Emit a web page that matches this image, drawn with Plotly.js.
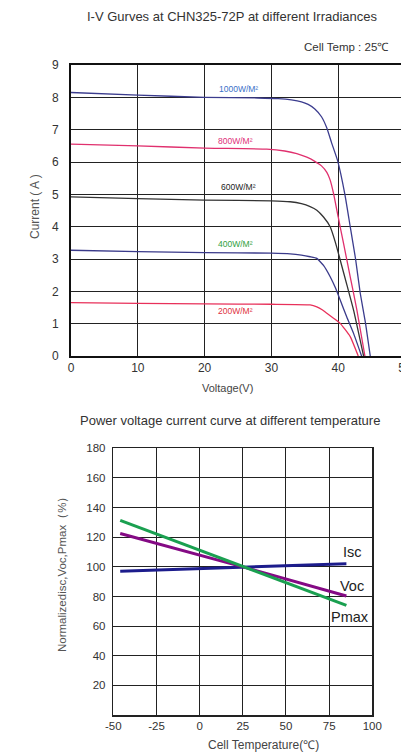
<!DOCTYPE html>
<html>
<head>
<meta charset="utf-8">
<script src="https://cdn.plot.ly/plotly-3.0.1.min.js"></script>
<style>
html,body{margin:0;padding:0;overflow:hidden;background:#fff;}
#chart{width:406px;height:753px;}
</style>
</head>
<body>
<div id="chart"></div>
<script>
// ---- Top chart: I-V curves ----
const irrLabels = ["1000W/M²", "800W/M²", "600W/M²", "400W/M²", "200W/M²"];
const v1000 = [0, 10, 20, 28, 31, 33, 34.5, 35.5, 36.5, 37.5, 38.3, 39, 39.9, 41, 41.8, 42.6, 43.3, 44.1, 44.8];
const i1000 = [8.15, 8.07, 8.0, 7.98, 7.96, 7.92, 7.86, 7.78, 7.64, 7.4, 7.05, 6.6, 6.05, 5.0, 4.0, 3.0, 1.94, 1.0, 0];
const v800 = [0, 10, 20, 29.3, 32, 33.8, 35.3, 36.5, 37.5, 38.3, 38.8, 39.3, 40, 40.8, 41.8, 42.8, 44.0];
const i800 = [6.55, 6.5, 6.43, 6.4, 6.34, 6.26, 6.15, 6.02, 5.88, 5.68, 5.44, 5.03, 4.3, 3.48, 2.45, 1.42, 0];
const v600 = [0, 10, 20, 30, 32.8, 34.5, 35.8, 36.8, 37.8, 38.8, 39.6, 40.3, 41.3, 42.3, 43.8];
const i600 = [4.92, 4.87, 4.82, 4.8, 4.77, 4.71, 4.62, 4.51, 4.3, 4.0, 3.5, 2.97, 2.2, 1.42, 0];
const v400 = [0, 10, 20, 30, 32.8, 34.5, 35.8, 36.8, 37.8, 38.8, 39.6, 40.3, 41.3, 42.3, 43.5];
const i400 = [3.27, 3.23, 3.2, 3.18, 3.16, 3.12, 3.07, 3.02, 2.8, 2.45, 2.1, 1.73, 1.2, 0.7, 0];
const v200 = [0, 10, 20, 30, 35.8, 36.8, 37.6, 38.3, 39.3, 40.3, 41.8, 43.0];
const i200 = [1.65, 1.63, 1.61, 1.6, 1.58, 1.52, 1.43, 1.32, 1.17, 1.01, 0.6, 0];
const labelV = [25.0, 24.6, 25.0, 24.6, 24.6];
const labelI = [8.25, 6.64, 5.22, 3.46, 1.39];
const voltTicks = [0, 10, 20, 30, 40, 50];
const currTicks = [0, 1, 2, 3, 4, 5, 6, 7, 8, 9];

// ---- Bottom chart: temperature coefficients ----
const tempNames = ["Isc", "Voc", "Pmax"];
const temps = [-46, 25, 85];
const isc = [97.1, 100, 102];
const voc = [122.5, 100, 80.3];
const pmax = [131.4, 100, 74];
const tempLabelT = [88.8, 88.2, 87];
const tempLabelV = [109.9, 87, 66.1];
const tempTicks = [-50, -25, 0, 25, 50, 75, 100];
const tempTickText = ["-50", "-25", "0", "25", "50", "75", "100"];
const pctTicks = [20, 40, 60, 80, 100, 120, 140, 160, 180];

const lineColors = ["#3b3c8e", "#e0306e", "#333333", "#3a3a8a", "#e8305a"];
const textColors = ["#3a70c8", "#e0307a", "#222222", "#30a040", "#e03040"];
const tempColors = ["#1c1c8c", "#840a84", "#1aa050"];

const ivV = [v1000, v800, v600, v400, v200];
const ivI = [i1000, i800, i600, i400, i200];

const traces = [];
for (let k = 0; k < 5; k++) {
  traces.push({
    x: ivV[k], y: ivI[k], xaxis: 'x', yaxis: 'y', mode: 'lines',
    line: {color: lineColors[k], width: 1.3, shape: 'spline', smoothing: 0.4},
    hoverinfo: 'skip', showlegend: false
  });
}
const tv = [isc, voc, pmax];
for (let k = 0; k < 3; k++) {
  traces.push({
    x: temps, y: tv[k], xaxis: 'x2', yaxis: 'y2', mode: 'lines',
    line: {color: tempColors[k], width: 3},
    hoverinfo: 'skip', showlegend: false
  });
}

const font = {family: 'Arial, "Liberation Sans", sans-serif', color: '#333', size: 11};
const ann = [];
for (let k = 0; k < 5; k++) {
  ann.push({x: labelV[k], y: labelI[k], xref: 'x', yref: 'y', text: irrLabels[k], showarrow: false,
    xanchor: 'center', yanchor: 'middle',
    font: {family: font.family, size: 8.5, color: textColors[k]}});
}
for (let k = 0; k < 3; k++) {
  ann.push({x: tempLabelT[k], y: tempLabelV[k], xref: 'x2', yref: 'y2', text: tempNames[k], showarrow: false,
    xanchor: 'center', yanchor: 'middle',
    font: {family: font.family, size: 14.5, color: '#222'}});
}
const W = 334, H = 650, L = 71, B = 715;
function px(x) { return (x - L) / W; }
function py(y) { return (B - y) / H; }
function addText(cx, cy, text, size, color, angle) {
  ann.push({x: px(cx), y: py(cy), xref: 'paper', yref: 'paper', text: text, showarrow: false,
    xanchor: 'center', yanchor: 'middle', textangle: angle || 0,
    font: {family: font.family, size: size, color: color}});
}
addText(232, 17, 'I-V Gurves at CHN325-72P at different Irradiances', 13, '#333');
addText(346, 47, 'Cell Temp : 25℃', 11.5, '#333');
addText(35, 207, 'Current ( A )', 12, '#555', -90);
addText(227, 388, 'Voltage(V)', 11, '#444');
addText(230, 420, 'Power voltage current curve at different temperature', 13, '#333');
addText(62, 572, 'Normalizedisc,Voc,Pmax（%）', 11.5, '#555', -90);
addText(263, 745, 'Cell Temperature(℃)', 12, '#444');

const layout = {
  width: 406, height: 753,
  margin: {l: L, r: 406 - L - W, t: 65, b: 753 - B},
  paper_bgcolor: '#fff', plot_bgcolor: '#fff',
  font: font,
  showlegend: false,
  xaxis: {domain: [0, 1], range: [0, 50], tickvals: voltTicks, ticks: '', showgrid: true, gridcolor: '#222', gridwidth: 1,
    zeroline: false, showline: true, linecolor: '#111', linewidth: 2, mirror: true, anchor: 'y',
    ticklabeloverflow: 'allow', tickfont: {size: 12, color: '#333'}},
  yaxis: {domain: [py(356), 1], range: [0, 9], tickvals: currTicks, ticks: '', showgrid: true, gridcolor: '#222', gridwidth: 1,
    zeroline: false, showline: true, linecolor: '#111', linewidth: 2, mirror: true, anchor: 'x',
    ticklabelstandoff: 8, tickfont: {size: 12, color: '#333'}},
  xaxis2: {domain: [px(113.3), px(372.3)], range: [-50, 100], tickvals: tempTicks, ticktext: tempTickText, ticks: '',
    showgrid: true, gridcolor: '#222', gridwidth: 1,
    zeroline: false, showline: true, linecolor: '#222', linewidth: 1.5, mirror: true, anchor: 'y2',
    tickfont: {size: 11.5, color: '#333'}},
  yaxis2: {domain: [0, py(448.3)], range: [0, 180], tickvals: pctTicks, ticks: '', showgrid: true, gridcolor: '#222', gridwidth: 1,
    zeroline: false, showline: true, linecolor: '#222', linewidth: 1.5, mirror: true, anchor: 'x2',
    ticklabelstandoff: 4, tickfont: {size: 11.5, color: '#333'}},
  annotations: ann
};
Plotly.newPlot('chart', traces, layout, {staticPlot: true, displayModeBar: false});
</script>
</body>
</html>
